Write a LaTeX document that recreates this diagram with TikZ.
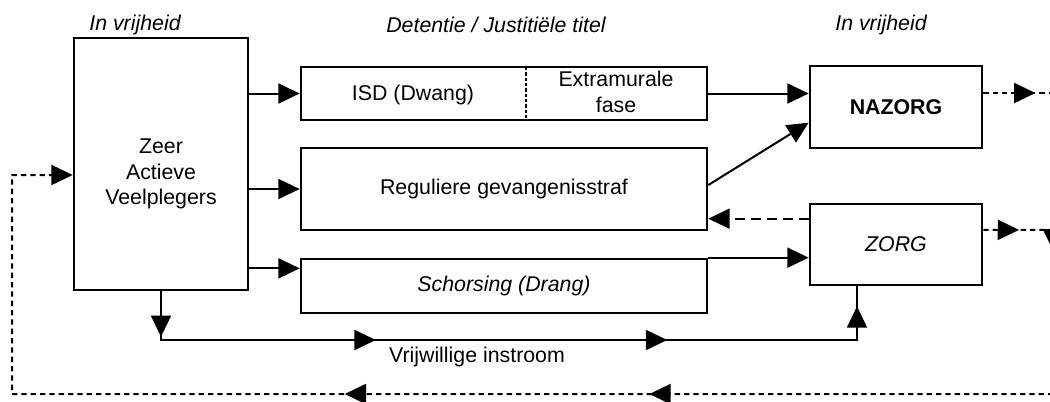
\documentclass[tikz,border=0pt]{standalone}
\usepackage{fontspec}
\setmainfont{Liberation Sans}
\usetikzlibrary{arrows.meta,decorations.markings}

\newcommand{\tekst}{\fontsize{16}{19}\selectfont}

\tikzset{
  blok/.style 2 args={draw, line width=2pt, minimum width=#1*0.75pt, minimum height=#2*0.75pt, inner sep=0pt, align=center},
  kop/.style={font=\tekst\itshape},
  verbind/.style={line width=1.5pt},
  stippel/.style={line width=1.5pt, dash pattern=on 4pt off 3pt},
  streep/.style={line width=1.5pt, dash pattern=on 7.5pt off 4.5pt},
  pijlop/.style={postaction={decorate, decoration={markings, mark=at position #1 with {\arrow{Triangle[length=16pt,width=15pt]}}}}}
}

\begin{document}
\begin{tikzpicture}[
                        x=0.75pt, y=-0.75pt,
                        >={Triangle[length=16pt,width=15pt]},
                        font=\tekst
                    ]
                    \clip (0,0) rectangle (1050,401);

                    % Koppen
                    \node [kop] (vrijLinks) at (135,25) {In vrijheid};
                    \node [kop] (detentie) at (496,25) {Detentie / Justitiële titel};
                    \node [kop] (vrijRechts) at (881,25) {In vrijheid};

                    % Blokken
                    \node [blok={174}{252}] (zav) at (161,164) {};
                    \node [align=center] (zavTekst) at (161,174) {Zeer\\Actieve\\Veelplegers};
                    \node [blok={406}{53}] (isd) at (504,93.5) {};
                    \node (isdTekst) at (413,95) {ISD (Dwang)};
                    \node [align=center] (extra) at (616,92) {Extramurale\\fase};
                    \node [blok={406}{82}] (reg) at (504,189) {Reguliere gevangenisstraf};
                    \node [blok={406}{54}, font=\tekst\itshape] (schors) at (504,286) {Schorsing (Drang)};
                    \node [blok={172}{82}, font=\tekst\bfseries] (nazorg) at (896,107) {NAZORG};
                    \node [blok={172}{81}, font=\tekst\itshape] (zorg) at (896,244.5) {ZORG};
                    \node (vjTekst) at (477,357) {Vrijwillige instroom};

                    % Hulppunten
                    \coordinate (isdDeel) at (526,67);
                    \coordinate (inSchors) at ([yshift=-8pt]schors.north west);
                    \coordinate (regUit) at ([yshift=3pt]reg.east);
                    \coordinate (nazIn) at ([yshift=20pt]nazorg.south west);
                    \coordinate (zorgUit) at ([yshift=-12pt]zorg.north west);
                    \coordinate (vjLinks) at (161,340);
                    \coordinate (vjRechts) at (857,340);
                    \coordinate (nazRechts) at ([yshift=10.5pt]nazorg.east);
                    \coordinate (nazWeg) at (1060,93);
                    \coordinate (zorgRechts) at ([yshift=11pt]zorg.east);
                    \coordinate (terugA) at (1053,230);
                    \coordinate (terugB) at (1053,394);
                    \coordinate (terugC) at (12,394);
                    \coordinate (terugD) at (12,175);

                    % Verbindingen
                    \draw [line width=1.2pt, dash pattern=on 2.5pt off 1.5pt] (isdDeel) -- (isdDeel |- isd.south);
                    \draw [verbind, ->] (zav.east |- isd.west) -- (isd.west);
                    \draw [verbind, ->] (zav.east |- reg.west) -- (reg.west);
                    \draw [verbind, ->] (zav.east |- inSchors) -- (inSchors);
                    \draw [verbind, ->] (isd.east) -- (isd.east -| nazorg.west);
                    \draw [verbind, ->] (regUit) -- (nazIn);
                    \draw [streep, ->] (zorgUit) -- (zorgUit -| reg.east);
                    \draw [verbind, ->] (schors.north east) -- (schors.north east -| zorg.west);
                    \draw [verbind, pijlop=0.057, pijlop=0.33, pijlop=0.695, pijlop=0.975]
                        (zav.south) -- (vjLinks) -- (vjRechts) -- (vjRechts |- zorg.south);
                    \draw [stippel, pijlop=0.68] (nazRechts) -- (nazWeg);
                    \draw [stippel, ->, pijlop=0.023, pijlop=0.058, pijlop=0.41, pijlop=0.606]
                        (zorgRechts) -- (terugA) -- (terugB) -- (terugC) -- (terugD) -- (terugD -| zav.west);
                \end{tikzpicture}
\end{document}
